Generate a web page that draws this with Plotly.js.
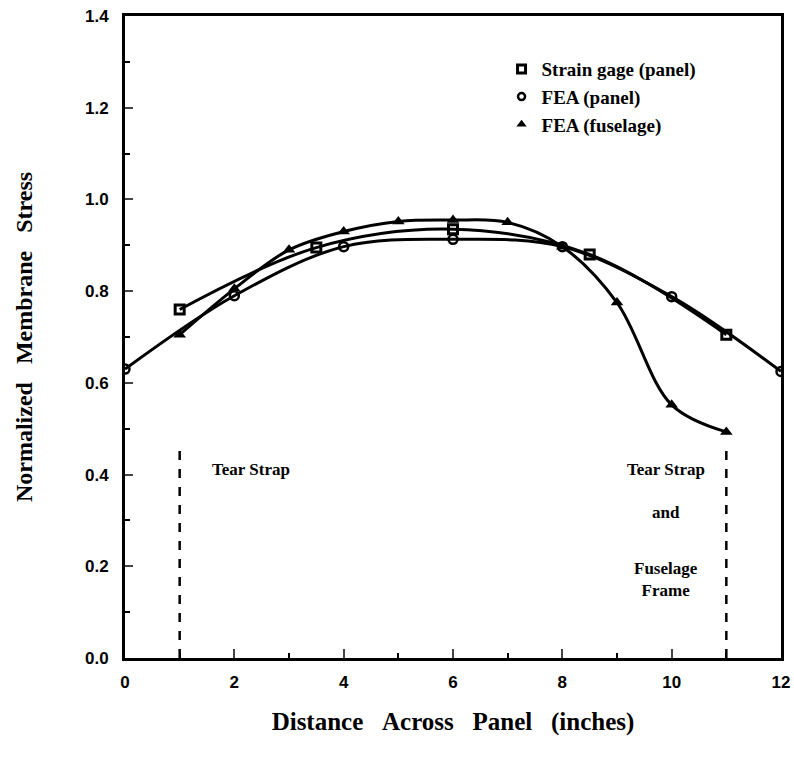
<!DOCTYPE html>
<html>
<head>
<meta charset="utf-8">
<script src="https://cdn.plot.ly/plotly-3.0.1.min.js"></script>
<style>html,body{margin:0;padding:0;background:#fff;}#chart{width:794px;height:757px;}</style>
</head>
<body>
<div id="chart"></div>
<script>
// Data
const strainX = [1, 3.5, 6, 8.5, 11];
const strainY = [0.76, 0.895, 0.935, 0.88, 0.705];

const panelX = [0, 2, 4, 6, 8, 10, 12];
const panelY = [0.63, 0.79, 0.897, 0.913, 0.897, 0.788, 0.625];

const fuselageX = [1, 2, 3, 4, 5, 6, 7, 8, 9, 10, 11];
const fuselageY = [0.705, 0.805, 0.89, 0.93, 0.952, 0.955, 0.95, 0.897, 0.775, 0.552, 0.493];

const seriesNames = ["Strain gage (panel)", "FEA (panel)", "FEA (fuselage)"];

const dividerX = [1, 11];
const dividerTop = 0.46;

const labelLeft = {x: 2.3, y: 0.41, text: "Tear Strap"};
const labelRight = [
  {x: 9.9, y: 0.41, text: "Tear Strap"},
  {x: 9.9, y: 0.318, text: "and"},
  {x: 9.9, y: 0.172, text: "Fuselage<br>Frame"}
];

const serif = "Liberation Serif, Times New Roman, serif";
const sans = "Liberation Sans, Arial, sans-serif";

const lineStyle = {color: "#000", width: 3, shape: "spline", smoothing: 1};

const traces = [
  {x: strainX, y: strainY, mode: "lines+markers", line: lineStyle, showlegend: false,
   marker: {symbol: "square-open", size: 9, color: "#000", line: {width: 3, color: "#000"}}},
  {x: panelX, y: panelY, mode: "lines+markers", line: lineStyle, showlegend: false,
   marker: {symbol: "circle-open", size: 9, color: "#000", line: {width: 2.5, color: "#000"}}},
  {x: fuselageX, y: fuselageY, mode: "lines+markers", line: lineStyle, showlegend: false,
   marker: {symbol: "triangle-up", size: 11, color: "#000"}},
  // legend entries (symbol only)
  {x: [null], y: [null], mode: "markers", name: seriesNames[0],
   marker: {symbol: "square-open", size: 8, color: "#000", line: {width: 3, color: "#000"}}},
  {x: [null], y: [null], mode: "markers", name: seriesNames[1],
   marker: {symbol: "circle-open", size: 7, color: "#000", line: {width: 2.5, color: "#000"}}},
  {x: [null], y: [null], mode: "markers", name: seriesNames[2],
   marker: {symbol: "triangle-up", size: 9, color: "#000"}}
];

const shapes = dividerX.map(xv => ({
  type: "line", xref: "x", yref: "y", x0: xv, x1: xv, y0: 0, y1: dividerTop,
  line: {color: "#000", width: 2.5, dash: "dash"}
}));

const annFont = {family: serif, size: 17, color: "#000", weight: "bold"};
const annotations = [labelLeft].concat(labelRight).map(a => ({
  x: a.x, y: a.y, xref: "x", yref: "y", text: a.text, showarrow: false,
  font: annFont, align: "center"
}));

const nb = "\u00A0\u00A0\u00A0";
const layout = {
  width: 794, height: 757,
  margin: {l: 125, r: 13, t: 16, b: 99},
  paper_bgcolor: "#fff", plot_bgcolor: "#fff",
  showlegend: true,
  legend: {x: 0.574, y: 0.947, xanchor: "left", yanchor: "top",
           font: {family: serif, size: 19, color: "#000", weight: "bold"},
           bgcolor: "rgba(0,0,0,0)", traceorder: "normal"},
  xaxis: {
    range: [0, 12], tickvals: [0, 2, 4, 6, 8, 10, 12], ticks: "inside", ticklen: 9, tickwidth: 2,
    minor: {dtick: 1, ticks: "inside", ticklen: 5, tickwidth: 2, tickcolor: "#000", showgrid: false},
    showline: true, linewidth: 3, linecolor: "#000", mirror: true, showgrid: false, zeroline: false,
    tickfont: {family: sans, size: 17, color: "#000", weight: "bold"},
    ticklabelstandoff: 7,
    title: {text: "Distance" + nb + "Across" + nb + "Panel" + nb + "(inches)",
            font: {family: serif, size: 25, color: "#000", weight: "bold"}, standoff: 22}
  },
  yaxis: {
    range: [0, 1.4], tickvals: [0, 0.2, 0.4, 0.6, 0.8, 1.0, 1.2, 1.4], tickformat: ".1f",
    ticks: "inside", ticklen: 8, tickwidth: 2,
    minor: {dtick: 0.1, ticks: "inside", ticklen: 5, tickwidth: 2, tickcolor: "#000", showgrid: false},
    showline: true, linewidth: 3, linecolor: "#000", mirror: true, showgrid: false, zeroline: false,
    tickfont: {family: sans, size: 17, color: "#000", weight: "bold"},
    ticklabelstandoff: 10,
    title: {text: "Normalized" + nb + "Membrane" + nb + "Stress",
            font: {family: serif, size: 24, color: "#000", weight: "bold"}, standoff: 46}
  },
  shapes: shapes,
  annotations: annotations
};

Plotly.newPlot("chart", traces, layout, {staticPlot: true, displayModeBar: false});
</script>
</body>
</html>
